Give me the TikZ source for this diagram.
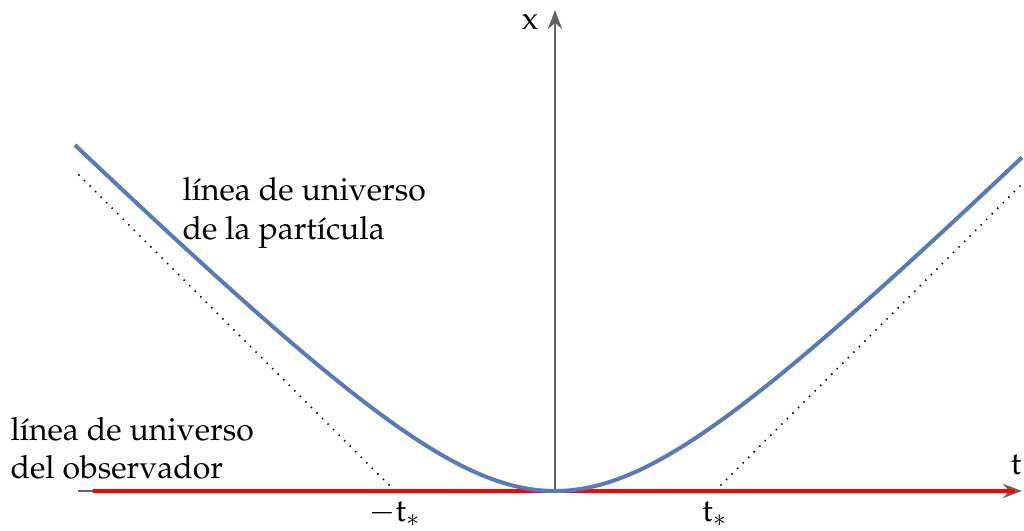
\documentclass[tikz,border=0pt]{standalone}
\usepackage[T1]{fontenc}
\usepackage{mathpazo}
\usetikzlibrary{arrows.meta}
\definecolor{curveblue}{RGB}{88,122,184}
\definecolor{axisgray}{RGB}{100,100,100}
\tikzset{
  axis/.style={draw=axisgray, line width=0.6pt, -{Stealth[length=6pt,width=4.5pt]}},
  worldline/.style={draw=curveblue, line width=1.25pt},
  observer/.style={draw=red, line width=1.35pt},
  asym/.style={draw=black, line width=0.45pt, dotted},
  lbl/.style={inner sep=0pt, align=left, font=\normalsize},
}
\begin{document}
\begin{tikzpicture}[x=0.313pt,y=0.313pt]
\useasboundingbox (-555,-40) rectangle (469,491);
\coordinate (O) at (0,0);
\coordinate (hl) at (-477,0);
\coordinate (hr) at (467,0);
\coordinate (vt) at (0,481);
\coordinate (rl) at (-462,0);
\coordinate (rr) at (460,0);
\coordinate (tml) at (-160,0);
\coordinate (tpl) at (160,0);
\coordinate (al) at (-480,320);
\coordinate (ar) at (467,307);
% asymptotes
\draw[asym] (tml) -- (al);
\draw[asym] (tpl) -- (ar);
% axes
\draw[axis] (hl) -- (hr);
\draw[observer] (rl) -- (rr);
\draw[axis] (O) -- (vt);
% world line of particle
\draw[worldline] plot[domain=-3:2.91875, samples=200, smooth] ({160*\x}, {160*(sqrt(\x*\x+1)-1)});
% labels
\node[lbl] (xl) at (-25,469) {$\mathrm{x}$};
\node[lbl] (tl) at (461,26) {$\mathrm{t}$};
\node[lbl, anchor=north] (tm) at (-160,-10) {$-\mathrm{t}_*$};
\node[lbl, anchor=north] (tp) at (160,-10) {$\mathrm{t}_*$};
\node[lbl, anchor=west] (lp) at (-373,278) {línea de universo\\de la partícula};
\node[lbl, anchor=west] (lo) at (-545,43) {línea de universo\\del observador};
\end{tikzpicture}
\end{document}
